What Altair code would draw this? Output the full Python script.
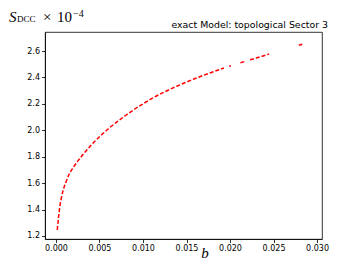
import altair as alt
import pandas as pd

# segment A (continuous part)
b_a = [0.00015, 0.0003, 0.00046, 0.0006, 0.0008, 0.0011, 0.0015, 0.002, 0.0027, 0.0035,
       0.0043, 0.0051, 0.006, 0.007, 0.008, 0.009, 0.010, 0.011, 0.012, 0.013,
       0.014, 0.015, 0.016, 0.017, 0.018, 0.0188, 0.0193]
s_a = [1.245, 1.345, 1.43, 1.48, 1.54, 1.60, 1.665, 1.72, 1.783, 1.847,
       1.905, 1.957, 2.01, 2.063, 2.112, 2.158, 2.20, 2.24, 2.275, 2.307,
       2.337, 2.365, 2.392, 2.417, 2.441, 2.46, 2.471]
# isolated short pieces
b_b = [0.0199, 0.0201]
s_b = [2.484, 2.488]
b_c = [0.0212, 0.0218]
s_c = [2.511, 2.523]
b_d = [0.0223, 0.0230, 0.0238, 0.0245]
s_d = [2.533, 2.547, 2.563, 2.577]
b_e = [0.0279, 0.0283]
s_e = [2.643, 2.651]

x_ticks = [0.0, 0.005, 0.01, 0.015, 0.02, 0.025, 0.03]
y_ticks = [1.2, 1.4, 1.6, 1.8, 2.0, 2.2, 2.4, 2.6]
title_text = "exact Model: topological Sector 3"

rows = []
for seg, (bs, ss) in enumerate([(b_a, s_a), (b_b, s_b), (b_c, s_c), (b_d, s_d), (b_e, s_e)]):
    for i, (b, s) in enumerate(zip(bs, ss)):
        rows.append({"b": b, "S": s, "seg": seg, "order": i})
df = pd.DataFrame(rows)

W, H = 277, 207

axis_style = dict(grid=False, title=None, labelFont="DejaVu Sans", labelFontSize=8,
                  labelColor="black", domainColor="black", tickColor="black",
                  tickSize=3.5, labelPadding=2, domainWidth=0.8, tickWidth=0.8)

line = alt.Chart(df).mark_line(color="red", strokeDash=[4, 2], strokeWidth=1.5,
                               interpolate="monotone", clip=True).encode(
    x=alt.X("b:Q", scale=alt.Scale(domain=[-0.00126, 0.03057], nice=False, zero=False),
            axis=alt.Axis(values=x_ticks, format=".3f", **axis_style)),
    y=alt.Y("S:Q", scale=alt.Scale(domain=[1.177, 2.744], nice=False, zero=False),
            axis=alt.Axis(values=y_ticks, format=".1f", **axis_style)),
    detail="seg:N",
    order="order:Q",
)

def txt(t, x, y, size, font="DejaVu Sans", style="normal", align="left", baseline="alphabetic"):
    return alt.Chart(pd.DataFrame({"t": [t]})).mark_text(
        font=font, fontSize=size, fontStyle=style, align=align, baseline=baseline, color="black"
    ).encode(x=alt.value(x), y=alt.value(y), text="t:N")

title = txt(title_text, 283, -4, 9.4, align="right")
s_lbl = txt("S", -36, -10, 15, font="Liberation Serif", style="italic")
dcc = txt("DCC", -28, -10, 9, font="Liberation Serif")
times = txt("×", -2, -10, 15, font="Liberation Serif")
ten = txt("10", 12, -10, 15, font="Liberation Serif")
exp = txt("−4", 28, -15, 10, font="Liberation Serif")
b_lbl = txt("b", 160, 226, 15, font="Liberation Serif", style="italic", align="center")

chart = alt.layer(line, title, s_lbl, dcc, times, ten, exp, b_lbl).properties(
    width=W, height=H,
    autosize=alt.AutoSizeParams(type="none"),
    padding={"left": 37, "top": 24, "right": 29, "bottom": 22},
).configure_view(stroke="black", strokeWidth=0.8)

chart.save("out.html", embed_options={"renderer": "svg", "actions": False})
